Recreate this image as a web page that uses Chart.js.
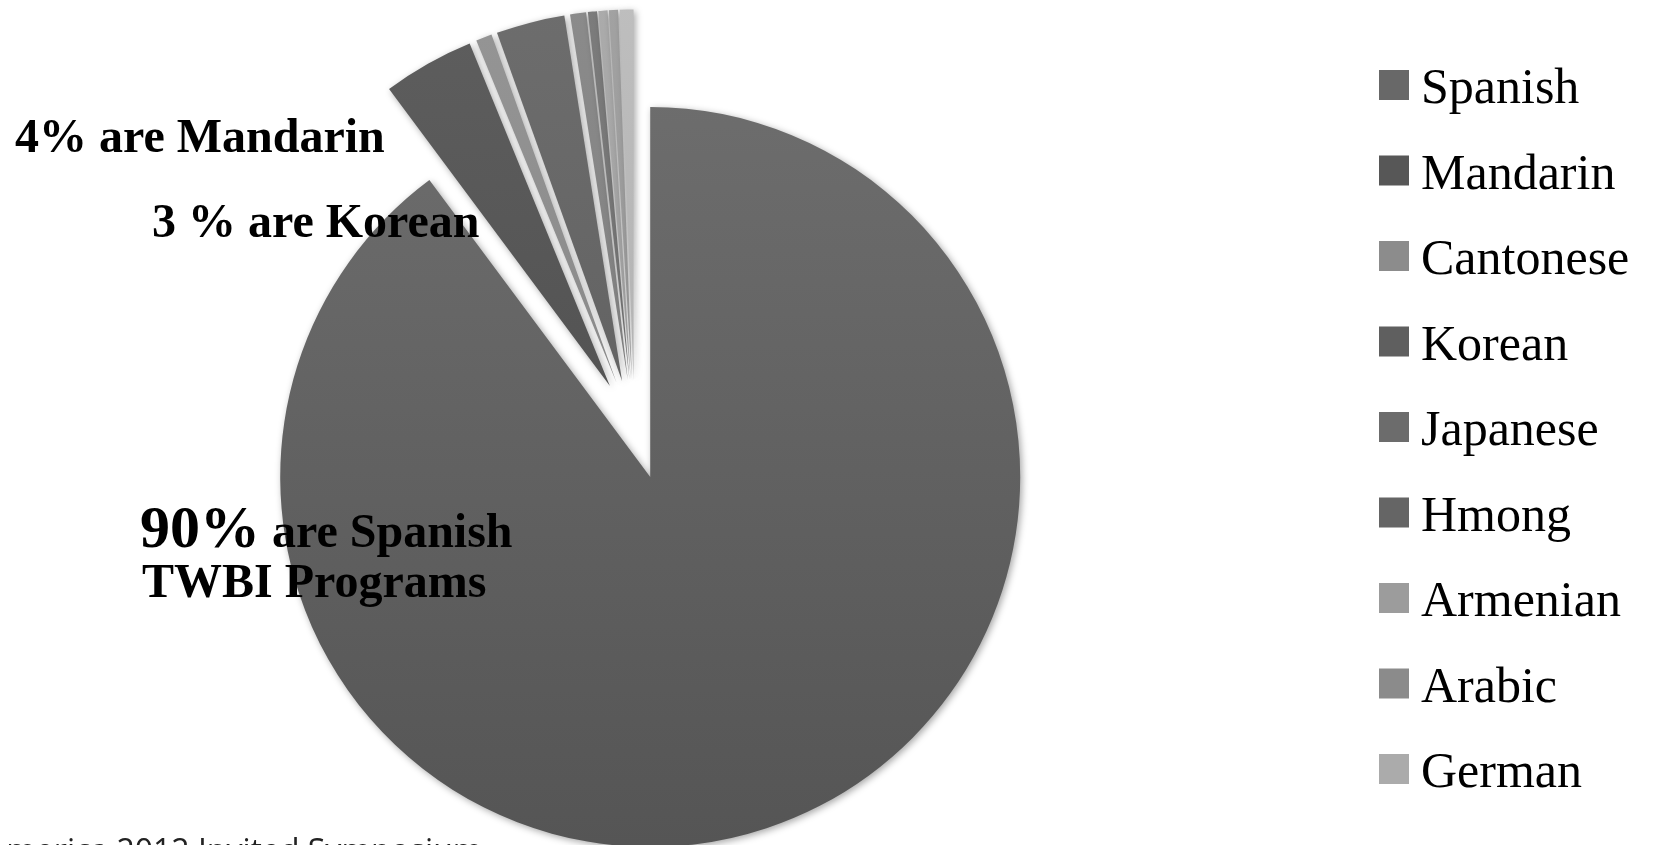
<!DOCTYPE html>
<html>
<head>
<meta charset="utf-8">
<title>TWBI Programs by Language</title>
<script src="https://cdn.jsdelivr.net/npm/chart.js@4.4.1/dist/chart.umd.min.js"></script>
<style>
  html, body { margin: 0; padding: 0; background: #fff; overflow: hidden; }
  #pie { display: block; }
</style>
</head>
<body>
<canvas id="pie" width="1660" height="845"></canvas>
<script>
/* global Chart */
// Share of two-way bilingual immersion programs by partner language (%)
const languages = ["Spanish", "Mandarin", "Cantonese", "Korean", "Japanese", "Hmong", "Armenian", "Arabic", "German"];
const shares = [90, 4, 0.7, 3, 0.7, 0.4, 0.4, 0.4, 0.6];
const footnote = "America 2012 Invited Symposium";

// slice fill: [top, bottom] of a soft vertical gradient
const sliceShade = [
  ["#707070", "#555555"],
  ["#5e5e5e", "#474747"],
  ["#959595", "#7d7d7d"],
  ["#6d6d6d", "#575757"],
  ["#8b8b8b", "#737373"],
  ["#7c7c7c", "#666666"],
  ["#ababab", "#939393"],
  ["#a2a2a2", "#8b8b8b"],
  ["#bebebe", "#a6a6a6"]
];
// legend swatches
const swatch = ["#686868", "#575757", "#8c8c8c", "#5f5f5f", "#6c6c6c", "#656565", "#9c9c9c", "#8b8b8b", "#ababab"];

const $ = (id) => document.getElementById(id);
const SERIF = '"Liberation Serif", "Times New Roman", serif';

const canvas = $("pie");
const g = canvas.getContext("2d");
const fills = sliceShade.map(([top, bottom]) => {
  const gr = g.createLinearGradient(0, 0, 0, canvas.height);
  gr.addColorStop(0, top);
  gr.addColorStop(1, bottom);
  return gr;
});

// pull every slice away from the centre along its own mid-angle
const explode = {
  id: "explode",
  beforeDatasetDraw(chart, args, opts) { shift(args.meta, opts.distance); },
  afterDatasetDraw(chart, args, opts) { shift(args.meta, -opts.distance); }
};
function shift(meta, d) {
  meta.data.forEach(arc => {
    const mid = (arc.startAngle + arc.endAngle) / 2;
    arc.x += Math.cos(mid) * d;
    arc.y += Math.sin(mid) * d;
  });
}

// soft drop shadow under the slices
const softShadow = {
  id: "softShadow",
  beforeDatasetsDraw(chart) {
    const c = chart.ctx;
    c.save();
    c.shadowColor = "rgba(0,0,0,0.35)";
    c.shadowBlur = 7;
    c.shadowOffsetX = 2;
    c.shadowOffsetY = 2;
  },
  afterDatasetsDraw(chart) { chart.ctx.restore(); }
};

// call-out texts and the footnote
const callouts = {
  id: "callouts",
  afterDraw(chart) {
    const c = chart.ctx;
    c.save();
    c.fillStyle = "#000";
    c.textBaseline = "alphabetic";
    c.textAlign = "left";

    c.font = `bold 48px ${SERIF}`;
    c.fillText(`${shares[1]}% are ${languages[1]}`, 15, 152);
    c.fillText(`${shares[3]} % are ${languages[3]}`, 152, 237);

    c.font = `bold 60px ${SERIF}`;
    const big = `${shares[0]}%`;
    c.fillText(big, 140, 547);
    const w = c.measureText(big).width;
    c.font = `bold 48px ${SERIF}`;
    c.fillText(` are ${languages[0]}`, 140 + w, 547);
    c.fillText("TWBI Programs", 142, 597);

    // footnote runs off the bottom-left corner
    c.fillStyle = "#222";
    c.font = '32px "Open Sans", sans-serif';
    c.fillText(footnote, -14, 862);
    c.restore();
  }
};

// legend column on the right
const sideLegend = {
  id: "sideLegend",
  afterDraw(chart) {
    const c = chart.ctx;
    c.save();
    c.font = `50px ${SERIF}`;
    c.textBaseline = "alphabetic";
    languages.forEach((name, i) => {
      const cy = 85 + i * 85.5;
      c.fillStyle = swatch[i];
      c.fillRect(1379, cy - 15, 30, 30);
      c.fillStyle = "#000";
      c.fillText(name, 1421, cy + 18);
    });
    c.restore();
  }
};

new Chart(canvas, {
  type: "pie",
  data: {
    labels: languages,
    datasets: [{
      data: shares,
      backgroundColor: fills,
      borderWidth: 0,
      clip: false
    }]
  },
  options: {
    responsive: false,
    animation: false,
    events: [],
    radius: 370,
    layout: { padding: { top: 14, left: 0, right: 391, bottom: 0 } },
    plugins: {
      legend: { display: false },
      tooltip: { enabled: false },
      explode: { distance: 50 }
    }
  },
  plugins: [softShadow, explode, callouts, sideLegend]
});
</script>
</body>
</html>
